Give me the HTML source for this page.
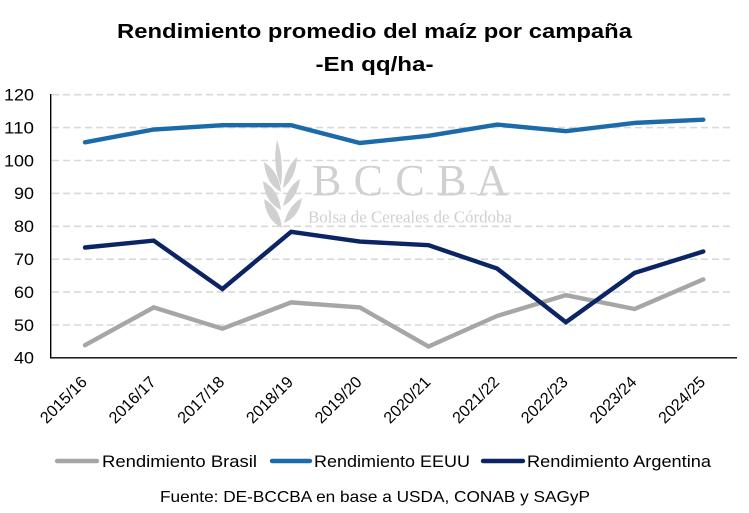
<!DOCTYPE html>
<html><head><meta charset="utf-8"><style>
html,body{margin:0;padding:0;background:#fff;}
svg{display:block;}
text{font-family:"Liberation Sans",Arial,sans-serif;}
</style></head><body>
<svg width="749" height="513" viewBox="0 0 749 513" xmlns="http://www.w3.org/2000/svg">
<rect width="749" height="513" fill="#fff"/>
<!-- Title -->
<text x="374.5" y="38" text-anchor="middle" font-size="20.5" font-weight="bold" fill="#000" textLength="515" lengthAdjust="spacingAndGlyphs">Rendimiento promedio del maíz por campaña</text>
<text x="374.5" y="71" text-anchor="middle" font-size="20.5" font-weight="bold" fill="#000" textLength="118" lengthAdjust="spacingAndGlyphs">-En qq/ha-</text>

<!-- gridlines -->
<g stroke="#d9d9d9" stroke-width="1.6" stroke-dasharray="7,4">
<line x1="52" y1="94.7" x2="731" y2="94.7"/>
<line x1="52" y1="127.6" x2="731" y2="127.6"/>
<line x1="52" y1="160.5" x2="731" y2="160.5"/>
<line x1="52" y1="193.4" x2="731" y2="193.4"/>
<line x1="52" y1="226.3" x2="731" y2="226.3"/>
<line x1="52" y1="259.2" x2="731" y2="259.2"/>
<line x1="52" y1="292.1" x2="731" y2="292.1"/>
<line x1="52" y1="325" x2="731" y2="325"/>
</g>

<!-- watermark wheat -->
<g fill="#d0d0d0">
<path d="M277,140 Q284,160 281,186 Q272,165 277,140 Z"/>
<path d="M281,192 Q266,184 264,162 Q279,172 281,192 Z"/>
<path d="M281,210 Q265,202 263,181 Q279,190 281,210 Z"/>
<path d="M282,228 Q266,220 264,199 Q280,208 282,228 Z"/>
<path d="M283,188 Q285,168 297,157 Q296,178 283,188 Z"/>
<path d="M283,206 Q287,187 300,179 Q297,199 283,206 Z"/>
<path d="M284,223 Q289,205 302,198 Q299,217 284,223 Z"/>
</g>
<text x="312" y="195" font-size="44" fill="#d0d0d0" textLength="196" lengthAdjust="spacing" style="font-family:'Liberation Serif',serif">B C C B A</text>
<text x="308" y="222.5" font-size="16.5" fill="#d0d0d0" textLength="204" lengthAdjust="spacingAndGlyphs" style="font-family:'Liberation Serif',serif">Bolsa de Cereales de Córdoba</text>

<!-- axes -->
<line x1="50.7" y1="94" x2="50.7" y2="358.5" stroke="#000" stroke-width="1.4"/>
<line x1="50" y1="357.8" x2="737" y2="357.8" stroke="#000" stroke-width="1.4"/>

<!-- y labels -->
<g font-size="16.5" fill="#000" text-anchor="end">
<text x="34" y="100.5" textLength="30" lengthAdjust="spacingAndGlyphs">120</text>
<text x="34" y="133.4" textLength="30" lengthAdjust="spacingAndGlyphs">110</text>
<text x="34" y="166.3" textLength="30" lengthAdjust="spacingAndGlyphs">100</text>
<text x="34" y="199.2" textLength="20" lengthAdjust="spacingAndGlyphs">90</text>
<text x="34" y="232.1" textLength="20" lengthAdjust="spacingAndGlyphs">80</text>
<text x="34" y="265" textLength="20" lengthAdjust="spacingAndGlyphs">70</text>
<text x="34" y="297.9" textLength="20" lengthAdjust="spacingAndGlyphs">60</text>
<text x="34" y="330.8" textLength="20" lengthAdjust="spacingAndGlyphs">50</text>
<text x="34" y="363.7" textLength="20" lengthAdjust="spacingAndGlyphs">40</text>
</g>

<!-- x labels -->
<g font-size="16.2" fill="#000" text-anchor="end">
<text transform="translate(88,383) rotate(-45)">2015/16</text>
<text transform="translate(156.7,383) rotate(-45)">2016/17</text>
<text transform="translate(225.4,383) rotate(-45)">2017/18</text>
<text transform="translate(294.1,383) rotate(-45)">2018/19</text>
<text transform="translate(362.8,383) rotate(-45)">2019/20</text>
<text transform="translate(431.5,383) rotate(-45)">2020/21</text>
<text transform="translate(500.2,383) rotate(-45)">2021/22</text>
<text transform="translate(568.9,383) rotate(-45)">2022/23</text>
<text transform="translate(637.6,383) rotate(-45)">2023/24</text>
<text transform="translate(706.3,383) rotate(-45)">2024/25</text>
</g>

<!-- series -->
<g fill="none" stroke-width="4.4" stroke-linejoin="miter" stroke-linecap="round">
<polyline stroke="#a6a6a6" points="85,345.2 153.7,307.4 222.4,328.7 291.1,302.4 359.8,307.4 428.5,346.5 497.2,315.9 565.9,295.2 634.6,309 703.3,279.4"/>
<polyline stroke="#1b6bab" points="85,142.3 153.7,129.5 222.4,125.2 291.1,125.2 359.8,143 428.5,135.8 497.2,124.6 565.9,131.2 634.6,122.9 703.3,119.7"/>
<polyline stroke="#0b2464" points="85,247.5 153.7,240.6 222.4,289 291.1,231.8 359.8,241.6 428.5,245.2 497.2,268.6 565.9,322.2 634.6,272.9 703.3,251.5"/>
</g>

<!-- legend -->
<g stroke-width="4.4" stroke-linecap="round">
<line x1="57" y1="461" x2="97" y2="461" stroke="#a6a6a6"/>
<line x1="272" y1="461" x2="310" y2="461" stroke="#1b6bab"/>
<line x1="483" y1="461" x2="523" y2="461" stroke="#0b2464"/>
</g>
<g font-size="16.5" fill="#000">
<text x="102" y="467" textLength="155" lengthAdjust="spacingAndGlyphs">Rendimiento Brasil</text>
<text x="314" y="467" textLength="156" lengthAdjust="spacingAndGlyphs">Rendimiento EEUU</text>
<text x="527" y="467" textLength="184" lengthAdjust="spacingAndGlyphs">Rendimiento Argentina</text>
</g>
<text x="160" y="502" font-size="16" fill="#000" textLength="430" lengthAdjust="spacingAndGlyphs">Fuente: DE-BCCBA en base a USDA, CONAB y SAGyP</text>
</svg>
</body></html>
